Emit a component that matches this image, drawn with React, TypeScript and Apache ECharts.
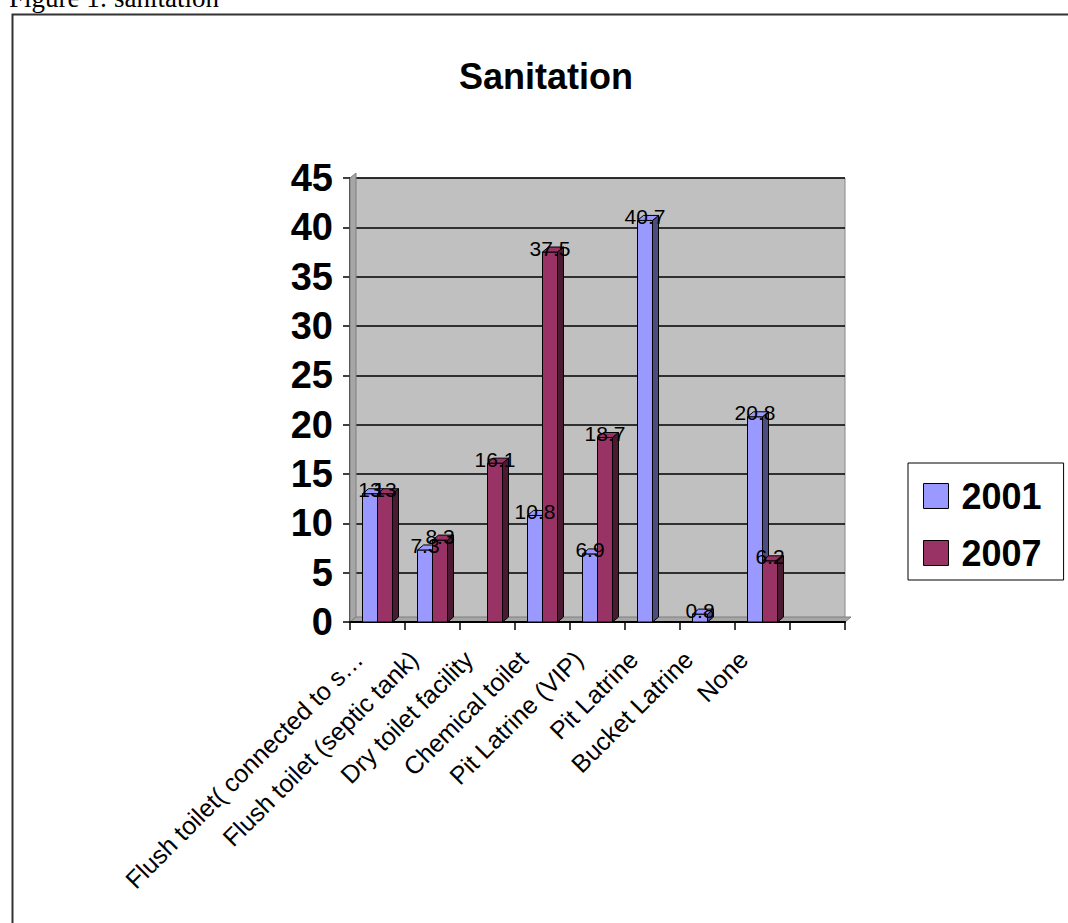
import React, { useEffect, useRef } from "react";
import * as echarts from "echarts";

// Sanitation types (last slot is an empty category on the axis)
const categories = [
  "Flush toilet( connected to s…",
  "Flush toilet (septic tank)",
  "Dry toilet facility",
  "Chemical toilet",
  "Pit Latrine (VIP)",
  "Pit Latrine",
  "Bucket Latrine",
  "None",
  "",
];
const seriesNames = ["2001", "2007"];
const values2001: (number | null)[] = [13, 7.3, null, 10.8, 6.9, 40.7, 0.8, 20.8, null];
const values2007: (number | null)[] = [13, 8.3, 16.1, 37.5, 18.7, null, null, 6.2, null];
const yTicks = { min: 0, max: 45, interval: 5 };

const FONT = '"Liberation Sans", Arial, Helvetica, sans-serif';
const BAR_W = 15;
const DEPTH_X = 6;
const DEPTH_Y = 5;

// plot box (pixels) shared by the grid and the wall/floor decoration
const PLOT = { left: 350, top: 178, width: 495, height: 444 };

type Palette = { front: string; side: string; top: string };
const palettes: Palette[] = [
  { front: "#9999FF", side: "#4C4C80", top: "#9999FF" },
  { front: "#993366", side: "#4C1933", top: "#993366" },
];

function makeBar3D(seriesIndex: number) {
  const pal = palettes[seriesIndex];
  return (params: any, api: any) => {
    const v = api.value(1);
    if (v === null || v === undefined || isNaN(v)) return null;
    const idx = api.value(0);
    const base = api.coord([idx, 0]);
    const top = api.coord([idx, v]);
    const x0 = seriesIndex === 0 ? base[0] - BAR_W : base[0];
    const x1 = x0 + BAR_W;
    const yb = base[1];
    const yt = top[1];
    const stroke = { stroke: "#000", lineWidth: 1 };
    return {
      type: "group",
      children: [
        {
          type: "polygon",
          shape: {
            points: [
              [x1, yt],
              [x1 + DEPTH_X, yt - DEPTH_Y],
              [x1 + DEPTH_X, yb - DEPTH_Y],
              [x1, yb],
            ],
          },
          style: { fill: pal.side, ...stroke },
        },
        {
          type: "rect",
          shape: { x: x0, y: yt, width: BAR_W, height: yb - yt },
          style: { fill: pal.front, ...stroke },
        },
        {
          type: "polygon",
          shape: {
            points: [
              [x0, yt],
              [x1, yt],
              [x1 + DEPTH_X, yt - DEPTH_Y],
              [x0 + DEPTH_X, yt - DEPTH_Y],
            ],
          },
          style: { fill: pal.top, ...stroke },
        },
        {
          type: "text",
          z2: 100,
          x: x0 + BAR_W / 2,
          y: yt - 4,
          style: {
            text: String(v),
            fill: "#000",
            font: `21px ${FONT}`,
            align: "center",
            verticalAlign: "middle",
          },
        },
      ],
    };
  };
}

function toData(vals: (number | null)[]) {
  return vals.map((v, i) => [i, v === null ? "-" : v]);
}

export default function App() {
  const ref = useRef<HTMLDivElement>(null);

  useEffect(() => {
    if (!ref.current) return;
    const chart = echarts.init(ref.current, undefined, { renderer: "svg" });
    const L = PLOT.left;
    const T = PLOT.top;
    const R = PLOT.left + PLOT.width;
    const B = PLOT.top + PLOT.height;
    chart.setOption({
      animation: false,
      backgroundColor: "#fff",
      grid: {
        left: PLOT.left,
        top: PLOT.top,
        width: PLOT.width,
        height: PLOT.height,
        show: true,
        backgroundColor: "#C0C0C0",
        borderColor: "#888",
        borderWidth: 1,
      },
      xAxis: {
        type: "category",
        data: categories,
        boundaryGap: true,
        z: 2,
        axisLine: { lineStyle: { color: "#000", width: 2 } },
        axisTick: { show: true, interval: 0, length: 8, lineStyle: { color: "#000", width: 1.5 } },
        axisLabel: {
          interval: 0,
          rotate: 45,
          margin: 14,
          padding: [0, 27, 0, 0],
          color: "#000",
          fontSize: 25,
          fontFamily: FONT,
        },
        splitLine: { show: false },
      },
      yAxis: {
        type: "value",
        min: yTicks.min,
        max: yTicks.max,
        interval: yTicks.interval,
        axisLine: { show: true, lineStyle: { color: "#000", width: 1.5 } },
        axisTick: { show: true, length: 7, lineStyle: { color: "#000", width: 1.5 } },
        axisLabel: {
          color: "#000",
          fontSize: 38,
          fontWeight: "bold",
          fontFamily: FONT,
          margin: 17,
        },
        splitLine: { show: true, lineStyle: { color: "#000", width: 1.5 } },
      },
      legend: {
        data: seriesNames,
        orient: "vertical",
        left: 908,
        top: 463,
        icon: "rect",
        itemWidth: 25,
        itemHeight: 25,
        itemGap: 17,
        padding: [13, 22, 7, 15],
        borderColor: "#000",
        borderWidth: 1,
        backgroundColor: "#fff",
        itemStyle: { borderColor: "#000", borderWidth: 1 },
        textStyle: {
          fontSize: 36,
          fontWeight: "bold",
          fontFamily: FONT,
          color: "#000",
          lineHeight: 40,
          padding: [0, 0, 0, 8],
        },
      },
      graphic: [
        {
          type: "rect",
          left: 10,
          top: 12,
          shape: { x: 0, y: 0, width: 1100, height: 1000 },
          style: { fill: "none", stroke: "#333", lineWidth: 2 },
          z: -1,
          silent: true,
        },
        // side wall and floor of the 3-D plot box
        {
          type: "polygon",
          z: 1,
          silent: true,
          shape: {
            points: [
              [L, B],
              [L, T],
              [L + DEPTH_X, T - DEPTH_Y],
              [L + DEPTH_X, B - DEPTH_Y],
            ],
          },
          style: { fill: "#A6A6A6", stroke: "#7F7F7F", lineWidth: 1 },
        },
        {
          type: "polygon",
          z: 1,
          silent: true,
          shape: {
            points: [
              [L, B],
              [R, B],
              [R + DEPTH_X, B - DEPTH_Y],
              [L + DEPTH_X, B - DEPTH_Y],
            ],
          },
          style: { fill: "#A6A6A6", stroke: "#7F7F7F", lineWidth: 1 },
        },
        {
          type: "text",
          x: 9,
          y: 11,
          style: {
            text: "Figure 1: sanitation",
            font: '27px "Liberation Serif", "Times New Roman", serif',
            fill: "#000",
            align: "left",
            verticalAlign: "bottom",
          },
        },
        {
          type: "text",
          x: 546,
          y: 76,
          style: {
            text: "Sanitation",
            font: `bold 36px ${FONT}`,
            fill: "#000",
            align: "center",
            verticalAlign: "middle",
          },
        },
      ],
      series: [
        {
          type: "custom",
          name: seriesNames[0],
          renderItem: makeBar3D(0),
          encode: { x: 0, y: 1 },
          itemStyle: { color: palettes[0].front },
          data: toData(values2001),
          z: 3,
        },
        {
          type: "custom",
          name: seriesNames[1],
          renderItem: makeBar3D(1),
          encode: { x: 0, y: 1 },
          itemStyle: { color: palettes[1].front },
          data: toData(values2007),
          z: 3,
        },
      ],
    });
    return () => chart.dispose();
  }, []);

  return (
    <div
      ref={ref}
      style={{ position: "absolute", left: 0, top: 0, width: 1068, height: 923 }}
    />
  );
}
